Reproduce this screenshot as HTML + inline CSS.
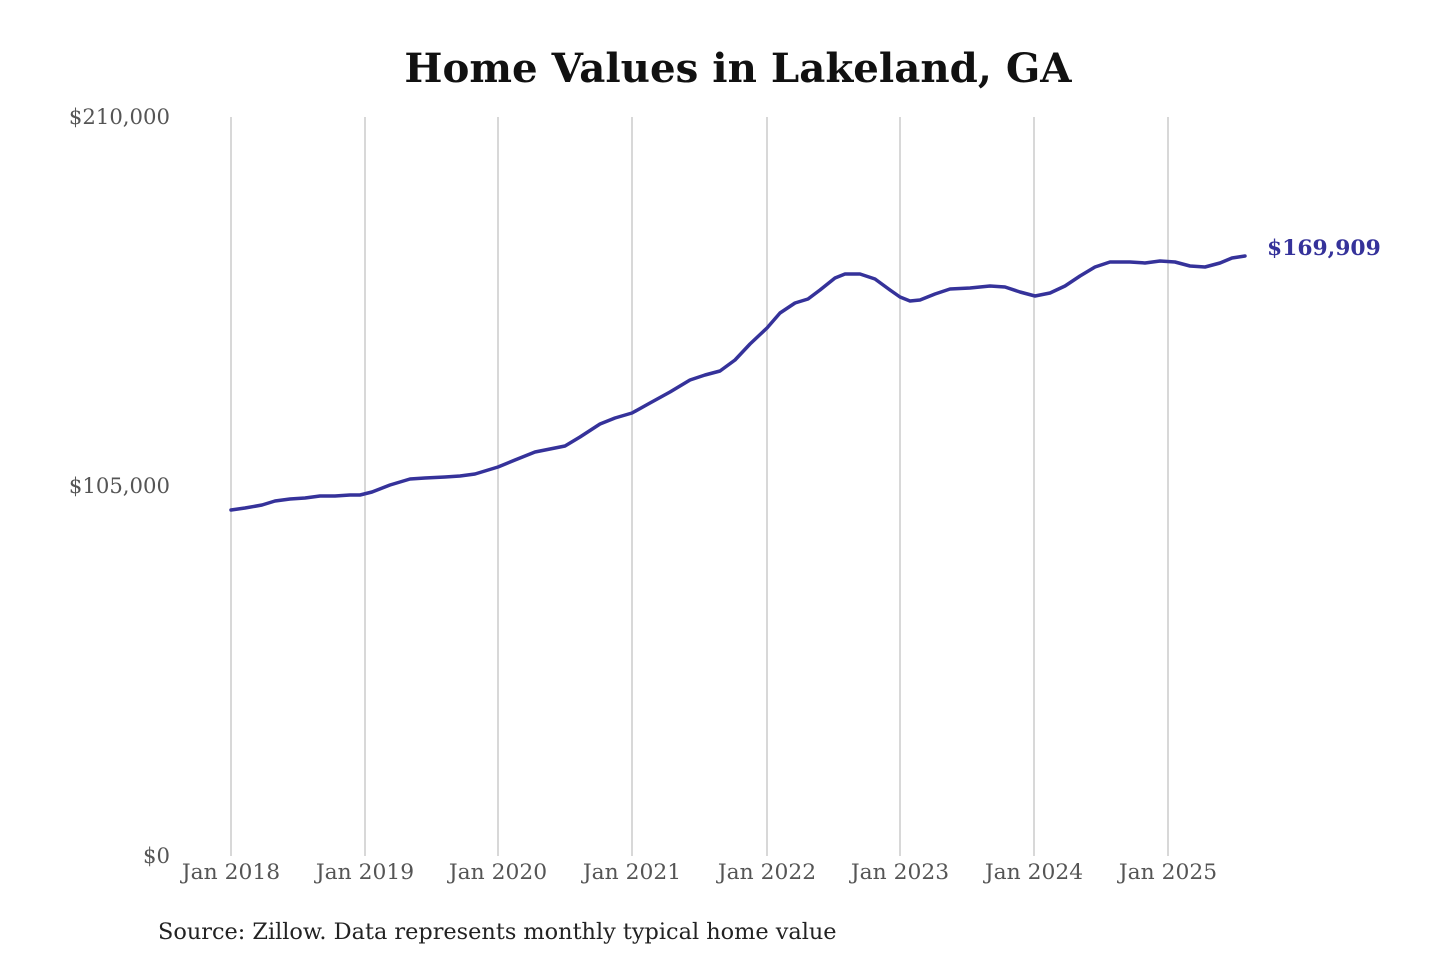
<!DOCTYPE html>
<html><head><meta charset="utf-8"><style>
body{margin:0;background:#fff;}
svg{display:block}
</style></head><body>
<svg width="1440" height="960" viewBox="0 0 1440 960" xmlns="http://www.w3.org/2000/svg" font-family="'DejaVu Serif','Liberation Serif',serif">
<rect width="1440" height="960" fill="#fff"/>
<text x="738" y="82" text-anchor="middle" font-size="40.3" font-weight="bold" fill="#111">Home Values in Lakeland, GA</text>
<g stroke="#c4c4c4" stroke-width="1.3">
<line x1="231" y1="117" x2="231" y2="856"/>
<line x1="365" y1="117" x2="365" y2="856"/>
<line x1="498" y1="117" x2="498" y2="856"/>
<line x1="632" y1="117" x2="632" y2="856"/>
<line x1="767" y1="117" x2="767" y2="856"/>
<line x1="900" y1="117" x2="900" y2="856"/>
<line x1="1034" y1="117" x2="1034" y2="856"/>
<line x1="1168" y1="117" x2="1168" y2="856"/>
</g>
<g font-size="21.2" fill="#555" text-anchor="end">
<text x="170" y="124">$210,000</text>
<text x="170" y="493">$105,000</text>
<text x="170" y="863">$0</text>
</g>
<g font-size="21.8" fill="#555" text-anchor="middle">
<text x="231" y="879">Jan 2018</text>
<text x="365" y="879">Jan 2019</text>
<text x="498" y="879">Jan 2020</text>
<text x="632" y="879">Jan 2021</text>
<text x="767" y="879">Jan 2022</text>
<text x="900" y="879">Jan 2023</text>
<text x="1034" y="879">Jan 2024</text>
<text x="1168" y="879">Jan 2025</text>
</g>
<polyline fill="none" stroke="#35329a" stroke-width="3.5" stroke-linejoin="round" stroke-linecap="round" points="231,510 245,508 262,505 275,501 290,499 305,498 320,496 335,496 350,495 360,495 372,492 390,485 410,479 425,478 445,477 460,476 475,474 498,467 515,460 535,452 550,449 565,446 580,437 600,424 615,418 632,413 650,403 670,392 690,380 705,375 720,371 735,360 750,344 767,328 780,313 795,303 808,299 820,290 835,278 845,274 860,274 875,279 890,290 900,297 910,301 920,300 935,294 950,289 970,288 990,286 1005,287 1020,292 1035,296 1050,293 1065,286 1080,276 1095,267 1110,262 1130,262 1145,263 1160,261 1175,262 1190,266 1205,267 1220,263 1232,258 1245,256"/>
<text x="1267" y="255" font-size="21.8" font-weight="bold" fill="#35329a">$169,909</text>
<text x="158" y="939" font-size="22.4" fill="#222">Source: Zillow. Data represents monthly typical home value</text>
</svg>
</body></html>
